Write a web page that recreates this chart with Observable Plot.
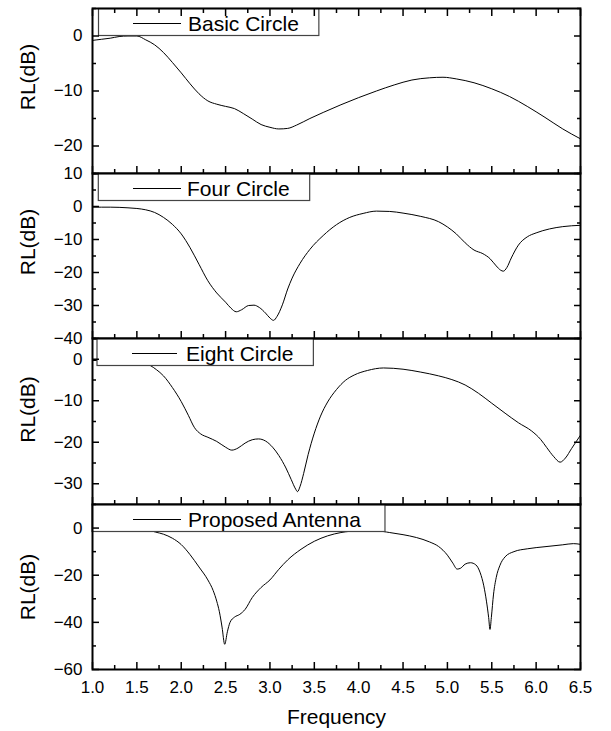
<!DOCTYPE html>
<html>
<head>
<meta charset="utf-8">
<script src="https://cdn.jsdelivr.net/npm/d3@7"></script>
<script src="https://cdn.jsdelivr.net/npm/@observablehq/plot@0.6"></script>
<style>
  body { margin: 0; background: #fff; }
  #chart { position: relative; width: 611px; height: 731px; font-family: "Liberation Sans", Arial, sans-serif; }
  #chart svg { position: absolute; left: 0; top: 0; overflow: visible; background: transparent; }
</style>
</head>
<body>
<div id="chart"></div>
<script>
// ---------------- data ----------------
const basicFreq = [1.0,1.1,1.2,1.3,1.4,1.5,1.6,1.7,1.8,1.9,2.0,2.1,2.2,2.3,2.4,2.5,2.6,2.7,2.8,2.9,3.0,3.1,3.2,3.3,3.45,3.6,3.8,4.0,4.2,4.4,4.6,4.8,4.95,5.1,5.3,5.5,5.7,5.9,6.1,6.3,6.5];
const basicRL   = [-0.8,-0.6,-0.4,-0.1,0,0,-0.7,-1.6,-3,-4.8,-6.7,-8.7,-10.5,-11.8,-12.4,-12.8,-13.2,-14.1,-15.1,-16.1,-16.6,-16.9,-16.8,-16.2,-15,-13.9,-12.5,-11.2,-10,-8.9,-8,-7.6,-7.5,-7.8,-8.5,-9.6,-11,-12.8,-14.8,-16.9,-18.7];

const fourFreq = [1.0,1.2,1.4,1.5,1.6,1.7,1.8,1.9,2.0,2.1,2.2,2.3,2.4,2.5,2.56,2.62,2.68,2.76,2.82,2.88,2.95,3.0,3.04,3.08,3.14,3.2,3.25,3.34,3.45,3.6,3.75,3.9,4.05,4.2,4.35,4.5,4.7,4.9,5.0,5.1,5.2,5.3,5.4,5.48,5.55,5.6,5.63,5.67,5.72,5.8,5.9,6.0,6.15,6.3,6.5];
const fourRL   = [-0.2,-0.2,-0.4,-0.6,-1.0,-1.8,-3.3,-5.4,-8.3,-12.5,-17.5,-22.5,-26.2,-29,-30.8,-31.9,-31.3,-30,-29.9,-30.6,-32.3,-33.8,-34.5,-33.3,-29.8,-25,-21.7,-17.2,-13,-8.8,-5.5,-3.3,-2.1,-1.4,-1.5,-2.0,-3,-4.6,-6.2,-8.3,-11,-13.2,-14.3,-15.8,-18,-19.3,-19.6,-18.5,-15.6,-11.7,-9.2,-8,-6.8,-6.1,-5.7];

const eightFreq = [1.0,1.2,1.4,1.55,1.65,1.72,1.8,1.9,2.0,2.08,2.15,2.22,2.3,2.4,2.5,2.57,2.64,2.72,2.8,2.87,2.95,3.03,3.1,3.18,3.24,3.29,3.31,3.34,3.38,3.43,3.5,3.57,3.65,3.75,3.85,3.95,4.1,4.28,4.5,4.7,4.9,5.05,5.2,5.35,5.5,5.65,5.8,5.95,6.05,6.12,6.2,6.27,6.33,6.4,6.5];
const eightRL   = [-0.3,-0.3,-0.5,-0.8,-1.5,-2.5,-4,-6.8,-10.2,-13.5,-16.5,-18.0,-18.8,-19.8,-21.2,-21.9,-21.4,-20.2,-19.4,-19.2,-19.7,-21.2,-23.2,-26.2,-29,-31.3,-31.9,-30.6,-27.5,-23,-17.8,-13.7,-10.3,-7.3,-5.1,-3.8,-2.7,-2.1,-2.4,-3.1,-4.0,-4.9,-6.2,-8.2,-10.6,-13,-15.3,-17.3,-19.3,-21.3,-23.5,-24.8,-23.8,-21.5,-18.3];

const propFreq = [1.0,1.3,1.6,1.71,1.8,1.9,2.0,2.1,2.2,2.3,2.36,2.4,2.43,2.46,2.49,2.52,2.55,2.6,2.66,2.72,2.8,2.9,3.0,3.1,3.2,3.35,3.5,3.65,3.8,4.0,4.2,4.35,4.5,4.65,4.8,4.9,5.0,5.06,5.11,5.15,5.2,5.26,5.32,5.37,5.41,5.44,5.465,5.48,5.495,5.52,5.55,5.59,5.65,5.75,5.9,6.1,6.3,6.42,6.5];
const propRL   = [-0.3,-0.3,-0.6,-1.7,-2.6,-4.3,-7,-11.3,-16.5,-22,-26.5,-31,-35.5,-42,-49.3,-44,-40,-37.8,-36.6,-34.5,-29.5,-25.2,-22,-17.5,-13.5,-9,-5.6,-3.3,-1.9,-1.2,-1.2,-1.9,-2.8,-4,-5.9,-7.8,-11.5,-14.8,-17.4,-17,-15.3,-14.7,-15.6,-19,-24.5,-31,-38,-43,-38,-28,-21,-16,-12.2,-10,-8.8,-7.9,-7.1,-6.6,-6.9];

const seriesNames = ["Basic Circle", "Four Circle", "Eight Circle", "Proposed Antenna"];

const xMajorTicks = [1.0,1.5,2.0,2.5,3.0,3.5,4.0,4.5,5.0,5.5,6.0,6.5];
const xMinorTicks = [1.25,1.75,2.25,2.75,3.25,3.75,4.25,4.75,5.25,5.75,6.25];

const yDomains = [[-25,5],[-40,10],[-35,5],[-60,10]];
const yMajorTicks = [[0,-10,-20],[10,0,-10,-20,-30,-40],[0,-10,-20,-30],[0,-20,-40,-60]];
const yMinorTicks = [[5,-5,-15,-25],[5,-5,-15,-25,-35],[5,-5,-15,-25,-35],[10,-10,-30,-50]];

const yLabel = "RL(dB)";
const xLabel = "Frequency";

// ---------------- layout (pixels) ----------------
const W = 611, H = 731, ML = 92, MR = 31;
const frameTops = [8, 173, 338, 504];
const frameBottoms = [173, 338, 504, 669];
const labelShift = [-14, -14, -12, 0];
const legendLeft = [6.5, 6.3, 5, 0];
const legendTextX = [96, 95, 94, 96];
const legendLine = [[41, 89], [41, 89], [40, 85], [41, 89]];
const legendPadRight = [20, 20, 20, 23];

const series = [
  [basicFreq, basicRL], [fourFreq, fourRL], [eightFreq, eightRL], [propFreq, propRL]
];

const ctx = document.createElement("canvas").getContext("2d");
ctx.font = '21px "Liberation Sans"';

function legendMark(i) {
  return (index, scales, values, dims) => {
    const g = d3.create("svg:g");
    const x0 = dims.marginLeft + legendLeft[i];
    const y0 = dims.marginTop;
    const tx = dims.marginLeft + legendTextX[i];
    const tw = ctx.measureText(seriesNames[i]).width;
    const right = tx + tw + legendPadRight[i];
    g.append("rect")
      .attr("x", x0).attr("y", y0 + 0.5)
      .attr("width", right - x0).attr("height", 27)
      .attr("fill", "white").attr("stroke", "#444").attr("stroke-width", 1.2);
    g.append("line")
      .attr("x1", dims.marginLeft + legendLine[i][0]).attr("x2", dims.marginLeft + legendLine[i][1])
      .attr("y1", y0 + 15.5).attr("y2", y0 + 15.5)
      .attr("stroke", "black").attr("stroke-width", 1);
    g.append("text")
      .attr("x", tx).attr("y", y0 + 23)
      .attr("text-anchor", "start")
      .attr("font-size", 21).attr("fill", "black")
      .attr("font-family", '"Liberation Sans", Arial, sans-serif')
      .text(seriesNames[i]);
    return g.node();
  };
}

const chart = document.getElementById("chart");

series.forEach(([freq, rl], i) => {
  const data = freq.map((f, k) => ({f, rl: rl[k]}));
  const last = i === 3;
  const marks = [
    Plot.line(data, {x: "f", y: "rl", stroke: "black", strokeWidth: 1, curve: "monotone-x", clip: true}),
    legendMark(i),
    Plot.axisY({ticks: yMajorTicks[i], anchor: "left", tickSize: 0, tickPadding: 10, fontSize: 17, label: null, fill: "black"}),
    Plot.axisY({ticks: yMajorTicks[i], anchor: "left", tickSize: 7, dx: 7, fill: "none", label: null, stroke: "black", strokeWidth: 1.5}),
    Plot.axisY({ticks: yMinorTicks[i], anchor: "left", tickSize: 4, dx: 4, fill: "none", label: null, stroke: "black", strokeWidth: 1.5}),
    Plot.axisY({ticks: yMajorTicks[i], anchor: "right", tickSize: 7, dx: -7, fill: "none", label: null, stroke: "black", strokeWidth: 1.5}),
    Plot.axisY({ticks: yMinorTicks[i], anchor: "right", tickSize: 4, dx: -4, fill: "none", label: null, stroke: "black", strokeWidth: 1.5}),
    Plot.axisX({ticks: xMajorTicks, anchor: "bottom", tickSize: 7, dy: -7, fill: "none", label: null, stroke: "black", strokeWidth: 1.5}),
    Plot.axisX({ticks: xMinorTicks, anchor: "bottom", tickSize: 4, dy: -4, fill: "none", label: null, stroke: "black", strokeWidth: 1.5}),
    Plot.frame({stroke: "black", strokeWidth: 2}),
    Plot.text([yLabel], {frameAnchor: "left", dx: -64, dy: labelShift[i], rotate: -90, textAnchor: "middle", lineAnchor: "middle", fontSize: 21, fill: "black", text: d => d})
  ];
  if (i === 0) {
    marks.push(
      Plot.axisX({ticks: xMajorTicks, anchor: "top", tickSize: 7, dy: 7, fill: "none", label: null, stroke: "black", strokeWidth: 1.5}),
      Plot.axisX({ticks: xMinorTicks, anchor: "top", tickSize: 4, dy: 4, fill: "none", label: null, stroke: "black", strokeWidth: 1.5})
    );
  }
  if (last) {
    marks.push(
      Plot.axisX({ticks: xMajorTicks, anchor: "bottom", tickSize: 0, tickPadding: 11, tickFormat: d3.format(".1f"), fontSize: 17, label: null, fill: "black"}),
      Plot.text([xLabel], {frameAnchor: "bottom", dy: 48, textAnchor: "middle", lineAnchor: "middle", fontSize: 21, fill: "black", text: d => d})
    );
  }
  const svg = Plot.plot({
    width: W,
    height: H,
    marginLeft: ML,
    marginRight: MR,
    marginTop: frameTops[i],
    marginBottom: H - frameBottoms[i],
    style: {fontFamily: '"Liberation Sans", Arial, sans-serif', background: "transparent", overflow: "visible", color: "black"},
    x: {domain: [1, 6.5]},
    y: {domain: yDomains[i]},
    marks
  });
  chart.appendChild(svg);
});
</script>
</body>
</html>
